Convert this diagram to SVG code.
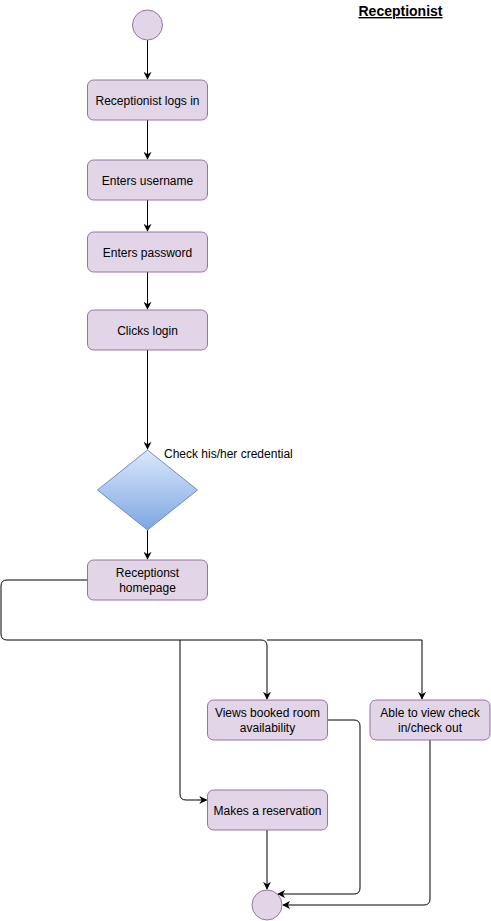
<svg xmlns="http://www.w3.org/2000/svg" width="491" height="921" viewBox="0 0 491 921">
<style>
.box{fill:#e1d5e7;stroke:#9673a6;stroke-width:1}
.t{font-family:"Liberation Sans",Arial,sans-serif;font-size:12px;fill:#000;text-anchor:middle}
.e{fill:none;stroke:#000;stroke-width:1}
</style>
<defs>
<linearGradient id="g" x1="0" y1="0" x2="0" y2="1"><stop offset="0" stop-color="#dae8fc"/><stop offset="1" stop-color="#7ea6e0"/></linearGradient>
<marker id="a" viewBox="0 0 10 10" refX="9" refY="5" markerWidth="8" markerHeight="8" markerUnits="userSpaceOnUse" orient="auto"><path d="M0,0 L10,5 L0,10 L3,5 Z" fill="#000"/></marker>
</defs>
<rect width="491" height="921" fill="#fff"/>
<g id="connectors">
<path class="e" d="M147.5,40 V79" marker-end="url(#a)"/>
<path class="e" d="M147.5,120 V159" marker-end="url(#a)"/>
<path class="e" d="M147.5,200 V231" marker-end="url(#a)"/>
<path class="e" d="M147.5,272 V309" marker-end="url(#a)"/>
<path class="e" d="M147.5,350 V449" marker-end="url(#a)"/>
<path class="e" d="M147.5,530 V559" marker-end="url(#a)"/>
<path class="e" d="M87.5,580 H7 Q1,580 1,586 V634 Q1,640 7,640 H180 V794 Q180,800 186,800 H206.5" marker-end="url(#a)"/>
<path class="e" d="M180,640 H261 Q267,640 267,646 V699" marker-end="url(#a)"/>
<path class="e" d="M267,640 H422 V699" marker-end="url(#a)"/>
<path class="e" d="M267,830 V889" marker-end="url(#a)"/>
<path class="e" d="M327.5,720 H354 Q360,720 360,726 V888 Q360,894 354,894 H278" marker-end="url(#a)"/>
<path class="e" d="M430,740 V899 Q430,905 424,905 H283" marker-end="url(#a)"/>
</g>
<g id="start"><circle cx="147.5" cy="25" r="15" class="box"/></g>
<g id="title"><text x="400.5" y="16" font-family="Liberation Sans,Arial,sans-serif" font-size="14" font-weight="bold" text-anchor="middle" text-decoration="underline">Receptionist</text></g>
<g id="n1"><rect class="box" x="87.5" y="80" width="120" height="40" rx="6"/><text class="t" x="147.5" y="104.5">Receptionist logs in</text></g>
<g id="n2"><rect class="box" x="87.5" y="160" width="120" height="40" rx="6"/><text class="t" x="147.5" y="184.5">Enters username</text></g>
<g id="n3"><rect class="box" x="87.5" y="232" width="120" height="40" rx="6"/><text class="t" x="147.5" y="256.5">Enters password</text></g>
<g id="n4"><rect class="box" x="87.5" y="310" width="120" height="40" rx="6"/><text class="t" x="147.5" y="334.5">Clicks login</text></g>
<g id="decision"><path d="M147.5,450 L197.5,490 L147.5,530 L97.5,490 Z" fill="url(#g)" stroke="#6c8ebf"/><text x="164" y="458" font-family="Liberation Sans,Arial,sans-serif" font-size="12">Check his/her credential</text></g>
<g id="n5"><rect class="box" x="87.5" y="560" width="120" height="40" rx="6"/><text class="t" x="147.5" y="577">Receptionst</text><text class="t" x="147.5" y="591.5">homepage</text></g>
<g id="n6"><rect class="box" x="207.5" y="700" width="120" height="40" rx="6"/><text class="t" x="267.5" y="717">Views booked room</text><text class="t" x="267.5" y="731.5">availability</text></g>
<g id="n7"><rect class="box" x="370" y="700" width="120" height="40" rx="6"/><text class="t" x="430" y="717">Able to view check</text><text class="t" x="430" y="731.5">in/check out</text></g>
<g id="n8"><rect class="box" x="207.5" y="790" width="120" height="40" rx="6"/><text class="t" x="267.5" y="814.5">Makes a reservation</text></g>
<g id="end"><circle cx="267" cy="905" r="15" class="box"/></g>
</svg>
